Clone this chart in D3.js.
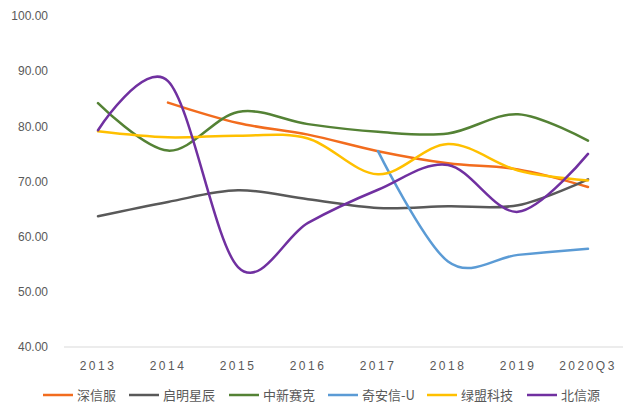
<!DOCTYPE html>
<html>
<head>
<meta charset="utf-8">
<script src="https://cdn.jsdelivr.net/npm/d3@7"></script>
<style>
  body { margin: 0; background: #fff; }
  svg { display: block; }
</style>
</head>
<body>
<svg width="640" height="418"></svg>
<script>
const years = ["2013", "2014", "2015", "2016", "2017", "2018", "2019", "2020Q3"];
const yTicks = [40, 50, 60, 70, 80, 90, 100];

// null = no value for that period
const shenxinfu = [null, 84.3, 80.6, 78.5, 75.5, 73.3, 72.2, 69.0];
const qiming = [63.7, 66.3, 68.4, 66.8, 65.2, 65.5, 65.7, 70.4];
const zhongxin = [84.2, 75.6, 82.6, 80.4, 79.0, 78.7, 82.2, 77.4];
const qianxin = [null, null, null, null, 75.5, 55.5, 56.7, 57.8];
const lvmeng = [79.1, 78.0, 78.3, 77.8, 71.3, 76.8, 72.0, 70.2];
const beixinyuan = [79.3, 88.2, 54.5, 62.5, 68.5, 73.0, 64.5, 75.0];

const series = [
  { name: "深信服", values: shenxinfu, color: "#F26C1E" },
  { name: "启明星辰", values: qiming, color: "#595959" },
  { name: "中新赛克", values: zhongxin, color: "#548235" },
  { name: "奇安信-U", values: qianxin, color: "#5B9BD5" },
  { name: "绿盟科技", values: lvmeng, color: "#FFC000" },
  { name: "北信源", values: beixinyuan, color: "#7030A0" }
];

const svg = d3.select("svg");

const x = d3.scalePoint()
  .domain(years)
  .range([98, 588]);

const y = d3.scaleLinear()
  .domain([40, 100])
  .range([347, 16]);

// y tick labels (no axis line)
svg.append("g")
  .selectAll("text")
  .data(yTicks)
  .join("text")
  .attr("x", 48)
  .attr("y", d => y(d))
  .attr("dy", "0.35em")
  .attr("text-anchor", "end")
  .style("font", "12px 'Liberation Sans', sans-serif")
  .style("fill", "#595959")
  .text(d => d.toFixed(2));

// baseline
svg.append("line")
  .attr("x1", 64).attr("x2", 623)
  .attr("y1", y(40)).attr("y2", y(40))
  .style("stroke", "#d9d9d9")
  .style("stroke-width", 1);

// x labels
svg.append("g")
  .selectAll("text")
  .data(years)
  .join("text")
  .attr("x", d => x(d))
  .attr("y", 370)
  .attr("text-anchor", "middle")
  .style("font", "12px 'Liberation Sans', sans-serif")
  .style("letter-spacing", "2.5px")
  .style("fill", "#595959")
  .text(d => d);

const line = d3.line()
  .defined(d => d.v != null)
  .x(d => x(d.year))
  .y(d => y(d.v))
  .curve(d3.curveCardinal.tension(0));

series.forEach(s => {
  svg.append("path")
    .datum(years.map((yr, i) => ({ year: yr, v: s.values[i] })))
    .attr("d", line)
    .style("fill", "none")
    .style("stroke", s.color)
    .style("stroke-width", 2.5)
    .style("stroke-linecap", "round");
});

// legend
const legendX = [43, 129, 229, 328, 427, 527];
const lg = svg.append("g");
series.forEach((s, i) => {
  lg.append("line")
    .attr("x1", legendX[i]).attr("x2", legendX[i] + 30)
    .attr("y1", 395).attr("y2", 395)
    .style("stroke", s.color)
    .style("stroke-width", 2.5);
  lg.append("text")
    .attr("x", legendX[i] + 34)
    .attr("y", 395)
    .attr("dy", "0.35em")
    .style("font", "13px 'Noto Sans CJK SC', sans-serif")
    .style("fill", "#595959")
    .text(s.name);
});
</script>
</body>
</html>
